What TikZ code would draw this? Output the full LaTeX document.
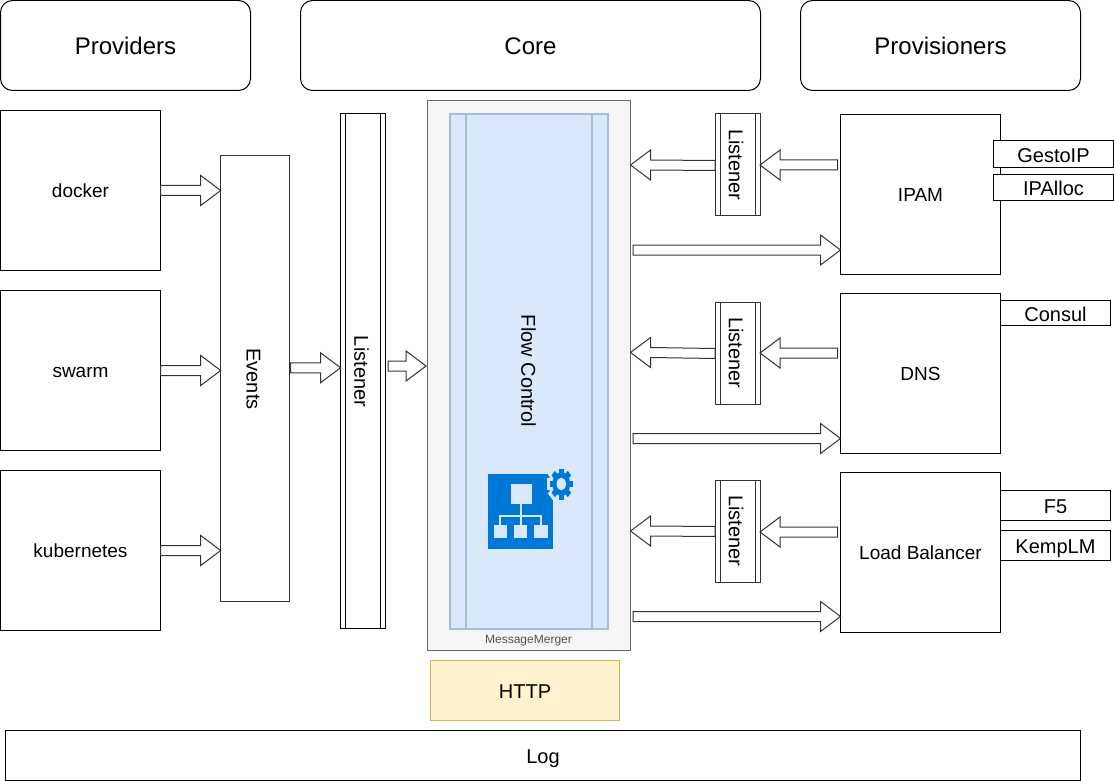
\documentclass[tikz,border=0pt]{standalone}
\usepackage{fontspec}
\usepackage{graphicx}
\setmainfont{Liberation Sans}
\usetikzlibrary{calc}
\definecolor{mmfill}{HTML}{F5F5F5}
\definecolor{mmline}{HTML}{666666}
\definecolor{flowfill}{HTML}{DAE8FC}
\definecolor{flowline}{HTML}{A6BEDD}
\definecolor{httpfill}{HTML}{FFF2CC}
\definecolor{httpline}{HTML}{D6B656}
\definecolor{iconblue}{HTML}{0078D7}
\definecolor{greyline}{HTML}{333333}
\tikzset{
  x=0.75pt,y=-0.75pt,
  every node/.style={inner sep=0pt,outer sep=0pt,text=black},
  plain/.style={draw=black,line width=0.75pt,fill=white},
  rounded/.style={plain,rounded corners=9pt},
  headbox/.style={rounded,font=\fontsize{18}{20}\selectfont,text height=14pt,text depth=0pt},
  bodytext/.style={font=\fontsize{14.25}{17}\selectfont,text height=10.4pt,text depth=0pt},
  smalltext/.style={font=\fontsize{15}{18}\selectfont,text height=12.4pt,text depth=0pt},
  provbox/.style={plain,bodytext},
  tagbox/.style={plain,smalltext},
  greybox/.style={draw=greyline,line width=0.75pt,fill=white},
  vtext/.style={font=\fontsize{15}{18}\selectfont},
  merger/.style={draw=mmline,line width=0.75pt,fill=mmfill},
  flow/.style={draw=flowline,line width=0.9pt,fill=flowfill},
  http/.style={draw=httpline,line width=0.75pt,fill=httpfill,smalltext},
  blockarrow/.style={draw=greyline,line width=0.75pt,fill=white,line join=miter},
  innerline/.style={line width=0.75pt},
}
% \pbox{style}{name}{x1}{y1}{x2}{y2}{text}
\newcommand{\pbox}[7]{%
  \pgfmathsetmacro{\pw}{(#5-#3)*0.75}%
  \pgfmathsetmacro{\ph}{(#6-#4)*0.75}%
  \node[#1,minimum width=\pw pt,minimum height=\ph pt] (#2) at ({(#3+#5)/2},{(#4+#6)/2}) {#7};}
% horizontal block arrow: \blockarrow{from}{to}{+1 right / -1 left}
\newcommand{\blockarrow}[3]{%
  \draw[blockarrow] let \p1=#1,\p2=#2 in
    (\x1,\y1+3.75pt) -- ({\x2-(#3)*15pt},\y2+3.75pt) -- ({\x2-(#3)*15pt},\y2+11.25pt)
    -- (\x2,\y2) -- ({\x2-(#3)*15pt},\y2-11.25pt) -- ({\x2-(#3)*15pt},\y2-3.75pt)
    -- (\x1,\y1-3.75pt) -- cycle;}
\begin{document}
\begin{tikzpicture}
\useasboundingbox (0,0) rectangle (1114,781);
% headers
\pbox{headbox}{providers}{0.5}{0.5}{250.5}{90.5}{Providers}
\pbox{headbox}{core}{300.5}{0.5}{760.5}{90.5}{Core}
\pbox{headbox}{provisioners}{800.5}{0.5}{1080.5}{90.5}{Provisioners}
% sources
\pbox{provbox}{docker}{0.5}{110.5}{160.5}{270.5}{docker}
\pbox{provbox}{swarm}{0.5}{290.5}{160.5}{450.5}{swarm}
\pbox{provbox}{kubernetes}{0.5}{470.5}{160.5}{630.5}{kubernetes}
% events
\pbox{greybox}{events}{220.7}{155.5}{289}{601}{}
\node[vtext] (eventstext) at (253.5,379) {\rotatebox{-90}{Events}};
% main listener
\pbox{plain}{mainlistener}{340.5}{113.5}{385.5}{628.5}{}
\draw[innerline] (345.5,113.5) -- (345.5,628.5) (380.5,113.5) -- (380.5,628.5);
\node[vtext] (mainlistenertext) at (361.5,371.5) {\rotatebox{-90}{Listener}};
% merger
\pbox{merger}{merger}{427.5}{100.5}{630.5}{650.5}{}
\node[font=\fontsize{9}{11}\selectfont,text=mmline!80!black] (mergertext) at (528.5,641) {MessageMerger};
\pbox{flow}{flow}{450}{114}{608}{629}{}
\draw[flowline,line width=0.9pt] (466,114) -- (466,629) (592,114) -- (592,629);
\node[vtext] (flowtext) at (528.5,371) {\rotatebox{-90}{Flow Control}};
% icon
\fill[iconblue] (487.5,473.5) rectangle (553,548.5);
\begin{scope}[shift={(561.3,484)},xscale=0.74]
  \foreach \a in {0,45,...,315}{
    \fill[flowfill,rotate=\a] (-6,-19.5) rectangle (6,-9);}
  \fill[flowfill] (0,0) circle [radius=17];
  \foreach \a in {0,45,...,315}{
    \fill[iconblue,rotate=\a] (-3.2,-15.5) rectangle (3.2,-9);}
  \fill[iconblue] (0,0) circle [radius=12];
  \fill[flowfill] (0,0) circle [radius=6.3];
\end{scope}
\fill[flowfill] (511,483.5) rectangle (531.5,504);
\fill[flowfill] (494,525) rectangle (506.7,538.3);
\fill[flowfill] (514.3,525) rectangle (527.3,538.3);
\fill[flowfill] (534.4,525) rectangle (547.7,538.3);
\draw[flowfill,line width=1.5pt] (521.2,504) -- (521.2,525) (500.3,525) -- (500.3,516) -- (541,516) -- (541,525);
% http, log
\pbox{http}{http}{430.5}{660.5}{619.5}{720.5}{HTTP}
\pbox{tagbox}{log}{5.5}{730.5}{1080.5}{780.5}{Log}
% small listeners
\foreach \ln/\t in {la/114,lb/302,lc/480}{
  \pbox{greybox}{\ln}{715}{\t}{760}{\t+102}{}
  \draw[greyline,line width=0.75pt] (720,\t) -- (720,\t+102) (755,\t) -- (755,\t+102);
  \node[vtext] (\ln text) at (736,\t+51) {\rotatebox{-90}{Listener}};
}
% provisioners
\pbox{provbox}{ipam}{840.5}{114.5}{1000.5}{274.5}{IPAM}
\pbox{provbox}{dns}{840.5}{293.5}{1000.5}{453.5}{DNS}
\pbox{provbox}{lbal}{840.5}{472.5}{1000.5}{632.5}{Load Balancer}
\pbox{tagbox}{gestoip}{993.5}{140.5}{1113.5}{167.5}{GestoIP}
\pbox{tagbox}{ipalloc}{993.5}{174.5}{1113.5}{200.5}{IPAlloc}
\pbox{tagbox}{consul}{1000.5}{300.5}{1110.5}{325.5}{Consul}
\pbox{tagbox}{ffive}{1000.5}{490.5}{1110.5}{520.5}{F5}
\pbox{tagbox}{kemp}{1000.5}{530.5}{1110.5}{560.5}{KempLM}
% arrows: providers -> events
\blockarrow{(docker.east)}{(events.west |- docker.east)}{1}
\blockarrow{(swarm.east)}{(events.west |- swarm.east)}{1}
\blockarrow{(kubernetes.east)}{(events.west |- kubernetes.east)}{1}
\coordinate (ev) at ($(events.east)+(1.5,-10.5)$);
\blockarrow{(ev)}{(mainlistener.west |- ev)}{1}
\coordinate (mlo) at (388,366);
\coordinate (mli) at (426,366);
\blockarrow{(mlo)}{(mli)}{1}
% listeners <-> merger, provisioners
\foreach \ln/\prov/\ya/\yb/\yc/\yd/\ye in {la/ipam/165/165/165.5/165/250,lb/dns/353/353/353.5/352.5/438.5,lc/lbal/532/532/531.5/531/616.5}{
  \coordinate (ya) at (0,\ya);
  \coordinate (yb) at (0,\yb);
  \coordinate (yc) at (0,\yc);
  \coordinate (yd) at (0,\yd);
  \coordinate (ye) at (0,\ye);
  \coordinate (\ln out) at (\ln.west |- yc);
  \coordinate (\ln tip) at (merger.east |- yd);
  \blockarrow{(\ln out)}{(\ln tip)}{-1}
  \coordinate (\ln in) at ($(\prov.west |- ya)+(-3,0)$);
  \coordinate (\ln itip) at (\ln.east |- yb);
  \blockarrow{(\ln in)}{(\ln itip)}{-1}
  \coordinate (\ln d) at ($(merger.east |- ye)+(2.5,0)$);
  \coordinate (\ln e) at (\prov.west |- ye);
  \blockarrow{(\ln d)}{(\ln e)}{1}
}
\end{tikzpicture}
\end{document}
